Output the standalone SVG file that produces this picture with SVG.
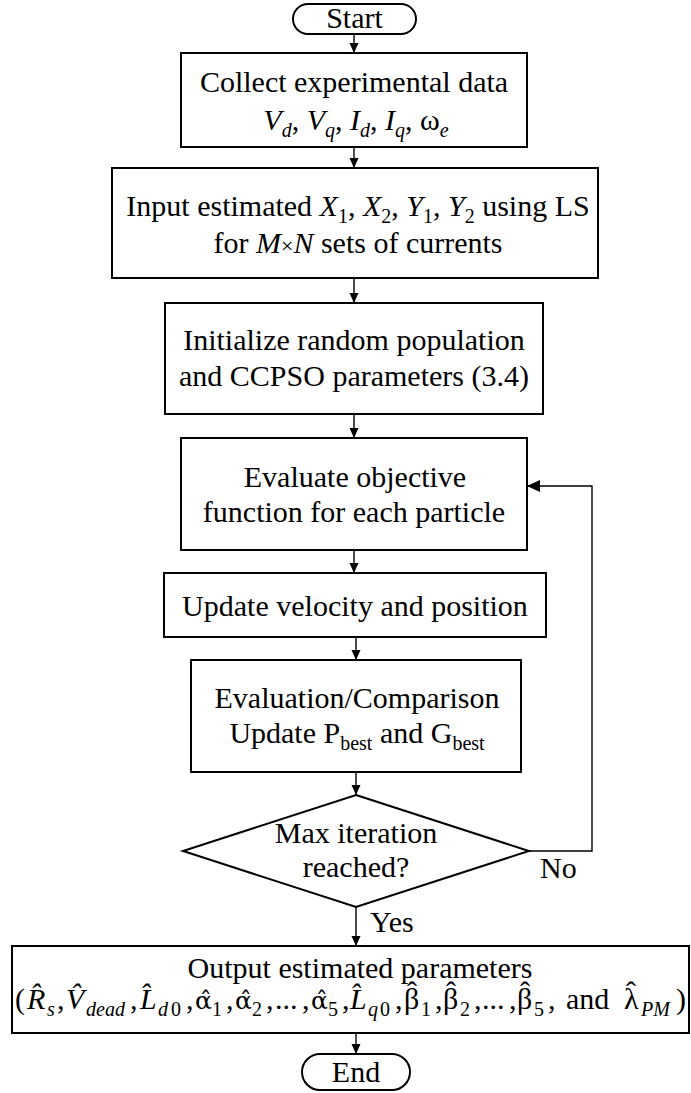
<svg xmlns="http://www.w3.org/2000/svg" width="691" height="1093" viewBox="0 0 691 1093">
  <style>
    .t { font-family: "Liberation Serif", "Times New Roman", serif; font-size: 30px; fill: #000; }
    .i { font-style: italic; }
    .s { font-size: 20px; }
    .g { font-family: "DejaVu Serif", serif; font-size: 25px; }
    .box { fill: #fff; stroke: #000; stroke-width: 2; }
    .ln { fill: none; stroke: #000; stroke-width: 1.4; }
  </style>
  <defs>
    <marker id="ah" viewBox="0 0 10 10" refX="10" refY="5" markerWidth="10" markerHeight="10" orient="auto" markerUnits="userSpaceOnUse">
      <path d="M0,0.5 L10,5 L0,9.5 z" fill="#000"/>
    </marker>
    <marker id="ahBig" viewBox="0 0 13 12" refX="13" refY="6" markerWidth="13" markerHeight="12" orient="auto" markerUnits="userSpaceOnUse">
      <path d="M0,0 L13,6 L0,12 z" fill="#000"/>
    </marker>
  </defs>
  <rect width="691" height="1093" fill="#fff"/>

  <!-- connectors -->
  <g id="connectors" class="ln">
    <path d="M354,34 V53" marker-end="url(#ah)"/>
    <path d="M354,147 V168" marker-end="url(#ah)"/>
    <path d="M354,278 V303" marker-end="url(#ah)"/>
    <path d="M354,414 V438" marker-end="url(#ah)"/>
    <path d="M354,550 V573" marker-end="url(#ah)"/>
    <path d="M356,637 V660" marker-end="url(#ah)"/>
    <path d="M356,772 V795" marker-end="url(#ah)"/>
    <path d="M529,851 H592 V486 H527" marker-end="url(#ahBig)"/>
    <path d="M356,907 V946" marker-end="url(#ah)"/>
    <path d="M356,1033 V1054" marker-end="url(#ah)"/>
  </g>

  <g id="start">
    <rect class="box" x="293" y="4" width="123" height="30" rx="15"/>
    <text class="t" x="354.5" y="28" text-anchor="middle">Start</text>
  </g>

  <g id="collect">
    <rect class="box" x="181" y="53" width="346" height="94"/>
    <text class="t" x="354" y="92" text-anchor="middle">Collect experimental data</text>
    <text class="t" x="356" y="130" text-anchor="middle"><tspan class="i">V</tspan><tspan class="s i" dy="7">d</tspan><tspan dy="-7">, </tspan><tspan class="i">V</tspan><tspan class="s i" dy="7">q</tspan><tspan dy="-7">, </tspan><tspan class="i">I</tspan><tspan class="s i" dy="7">d</tspan><tspan dy="-7">, </tspan><tspan class="i">I</tspan><tspan class="s i" dy="7">q</tspan><tspan dy="-7">, ω</tspan><tspan class="s i" dy="7">e</tspan></text>
  </g>

  <g id="input">
    <rect class="box" x="112" y="168" width="486" height="110"/>
    <text class="t" x="358" y="216" text-anchor="middle">Input estimated <tspan class="i">X</tspan><tspan class="s" dy="7">1</tspan><tspan dy="-7">, </tspan><tspan class="i">X</tspan><tspan class="s" dy="7">2</tspan><tspan dy="-7">, </tspan><tspan class="i">Y</tspan><tspan class="s" dy="7">1</tspan><tspan dy="-7">, </tspan><tspan class="i">Y</tspan><tspan class="s" dy="7">2</tspan><tspan dy="-7"> using LS</tspan></text>
    <text class="t" x="358" y="253" text-anchor="middle">for <tspan class="i">M</tspan><tspan font-size="22">×</tspan><tspan class="i">N</tspan> sets of currents</text>
  </g>

  <g id="init">
    <rect class="box" x="165" y="303" width="378" height="111"/>
    <text class="t" x="354" y="350" text-anchor="middle">Initialize random population</text>
    <text class="t" x="354" y="386" text-anchor="middle">and CCPSO parameters (3.4)</text>
  </g>

  <g id="evaluate">
    <rect class="box" x="181" y="438" width="346" height="112"/>
    <text class="t" x="355" y="487" text-anchor="middle">Evaluate objective</text>
    <text class="t" x="354" y="522" text-anchor="middle">function for each particle</text>
  </g>

  <g id="update">
    <rect class="box" x="164" y="573" width="382" height="64"/>
    <text class="t" x="355" y="616" text-anchor="middle">Update velocity and position</text>
  </g>

  <g id="compare">
    <rect class="box" x="191" y="660" width="330" height="112"/>
    <text class="t" x="357" y="708" text-anchor="middle">Evaluation/Comparison</text>
    <text class="t" x="357" y="743" text-anchor="middle">Update P<tspan class="s" dy="7">best</tspan><tspan dy="-7"> and G</tspan><tspan class="s" dy="7">best</tspan></text>
  </g>

  <g id="decision">
    <polygon class="box" points="356,795 529,851 356,907 183,851"/>
    <text class="t" x="356" y="843" text-anchor="middle">Max iteration</text>
    <text class="t" x="356" y="877" text-anchor="middle">reached?</text>
    <text class="t" x="540" y="878">No</text>
    <text class="t" x="370" y="932">Yes</text>
  </g>

  <g id="output">
    <rect class="box" x="12" y="946" width="677" height="87"/>
    <text class="t" x="360" y="978" text-anchor="middle">Output estimated parameters</text>
    <!-- R, V, L and alpha take a combining circumflex; beta and lambda get a placed circumflex -->
    <text class="t" y="1009"><tspan x="15">(</tspan><tspan x="27" class="i">R&#x302;</tspan><tspan x="47" y="1016" class="s i">s</tspan><tspan x="57" y="1009">,</tspan><tspan x="66" class="i">V&#x302;</tspan><tspan x="86" y="1016" class="s i">dead</tspan><tspan x="130" y="1009">,</tspan><tspan x="140" class="i">L&#x302;</tspan><tspan x="158" y="1016" class="s i">d</tspan><tspan x="171" class="s">0</tspan><tspan x="186" y="1009">,</tspan><tspan x="195" class="g">α&#x302;</tspan><tspan x="212" y="1016" class="s">1</tspan><tspan x="226" y="1009">,</tspan><tspan x="235" class="g">α&#x302;</tspan><tspan x="252" y="1016" class="s">2</tspan><tspan x="266" y="1009">,</tspan><tspan x="275">...</tspan><tspan x="302">,</tspan><tspan x="311" class="g">α&#x302;</tspan><tspan x="328" y="1016" class="s">5</tspan><tspan x="342" y="1009">,</tspan><tspan x="350" class="i">L&#x302;</tspan><tspan x="368" y="1016" class="s i">q</tspan><tspan x="380" class="s">0</tspan><tspan x="395" y="1009">,</tspan><tspan x="404">β</tspan><tspan x="407" y="1002">ˆ</tspan><tspan x="421" y="1016" class="s">1</tspan><tspan x="435" y="1009">,</tspan><tspan x="443">β</tspan><tspan x="446" y="1002">ˆ</tspan><tspan x="460" y="1016" class="s">2</tspan><tspan x="474" y="1009">,</tspan><tspan x="482">...</tspan><tspan x="509">,</tspan><tspan x="517">β</tspan><tspan x="520" y="1002">ˆ</tspan><tspan x="534" y="1016" class="s">5</tspan><tspan x="548" y="1009">,</tspan><tspan x="566">and</tspan><tspan x="624">λ</tspan><tspan x="626" y="1002">ˆ</tspan><tspan x="641" y="1016" class="s i">PM</tspan><tspan x="676" y="1009">)</tspan></text>
  </g>

  <g id="end">
    <rect class="box" x="302" y="1054" width="108" height="36" rx="18"/>
    <text class="t" x="356" y="1082" text-anchor="middle">End</text>
  </g>
</svg>
